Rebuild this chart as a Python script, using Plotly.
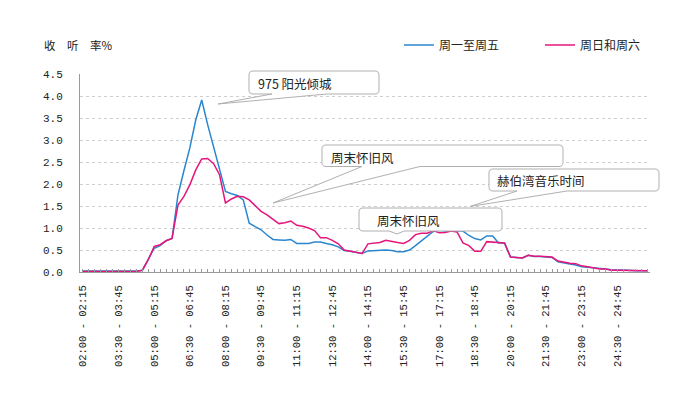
import plotly.graph_objects as go

# ---- data ----
slots = []
for k in range(96):
    m0 = 2 * 60 + 15 * k
    m1 = m0 + 15
    slots.append(f"{m0 // 60:02d}:{m0 % 60:02d} - {m1 // 60:02d}:{m1 % 60:02d}")

tick_labels = ["02:00 - 02:15", "03:30 - 03:45", "05:00 - 05:15", "06:30 - 06:45",
               "08:00 - 08:15", "09:30 - 09:45", "11:00 - 11:15", "12:30 - 12:45",
               "14:00 - 14:15", "15:30 - 15:45", "17:00 - 17:15", "18:30 - 18:45",
               "20:00 - 20:15", "21:30 - 21:45", "23:00 - 23:15", "24:30 - 24:45"]

weekday = [0.02, 0.02, 0.02, 0.02, 0.02, 0.02, 0.02, 0.02, 0.02, 0.02,
           0.04, 0.28, 0.54, 0.60, 0.71, 0.76, 1.75, 2.30, 2.82, 3.46,
           3.91, 3.35, 2.85, 2.30, 1.83, 1.78, 1.74, 1.64, 1.11, 1.03,
           0.96, 0.84, 0.74, 0.73, 0.72, 0.74, 0.65, 0.65, 0.65, 0.68,
           0.68, 0.65, 0.62, 0.57, 0.49, 0.47, 0.45, 0.42, 0.48, 0.49,
           0.49, 0.50, 0.49, 0.46, 0.46, 0.50, 0.60, 0.70, 0.81, 0.92,
           0.95, 0.93, 0.93, 0.93, 0.93, 0.83, 0.76, 0.73, 0.82, 0.82,
           0.66, 0.66, 0.34, 0.33, 0.32, 0.38, 0.35, 0.35, 0.34, 0.33,
           0.23, 0.20, 0.18, 0.16, 0.12, 0.11, 0.10, 0.09, 0.07, 0.05,
           0.05, 0.05, 0.04, 0.03, 0.03, 0.03]

weekend = [0.01, 0.01, 0.01, 0.01, 0.01, 0.01, 0.01, 0.01, 0.01, 0.01,
           0.04, 0.28, 0.58, 0.62, 0.71, 0.76, 1.52, 1.72, 1.98, 2.32,
           2.57, 2.58, 2.46, 2.21, 1.57, 1.66, 1.72, 1.71, 1.64, 1.51,
           1.38, 1.30, 1.21, 1.10, 1.12, 1.16, 1.06, 1.04, 1.00, 0.94,
           0.78, 0.78, 0.72, 0.64, 0.50, 0.47, 0.44, 0.42, 0.64, 0.65,
           0.67, 0.72, 0.69, 0.67, 0.65, 0.72, 0.85, 0.88, 0.88, 0.94,
           0.89, 0.90, 0.93, 0.91, 0.66, 0.60, 0.47, 0.47, 0.69, 0.68,
           0.66, 0.66, 0.34, 0.33, 0.32, 0.38, 0.36, 0.36, 0.35, 0.34,
           0.25, 0.22, 0.20, 0.19, 0.14, 0.12, 0.10, 0.07, 0.07, 0.04,
           0.04, 0.04, 0.04, 0.03, 0.03, 0.03]

series_names = ["周一至周五", "周日和周六"]
y_ticks = [0.0, 0.5, 1.0, 1.5, 2.0, 2.5, 3.0, 3.5, 4.0, 4.5]

# ---- layout geometry (page pixels; the page body adds an 8px offset) ----
OFF = 8
W, H = 700 - OFF, 394 - OFF
PLOT_X0, PLOT_X1, PLOT_Y0, PLOT_Y1 = 80, 650, 74, 272   # page pixels
L = PLOT_X0 - OFF
T = PLOT_Y0 - OFF
PW = PLOT_X1 - PLOT_X0
PH = PLOT_Y1 - PLOT_Y0
R = W - L - PW
B = H - T - PH


def px(x):
    return (x - PLOT_X0) / PW


def py(y):
    return (PLOT_Y1 - y) / PH


def callout(x0, y0, x1, y1, b1, b2, apex, r=4):
    def P(x, y):
        return f"{px(x):.5f},{py(y):.5f}"
    s = f"M {P(x0 + r, y0)} L {P(x1 - r, y0)} Q {P(x1, y0)} {P(x1, y0 + r)} "
    s += f"L {P(x1, y1 - r)} Q {P(x1, y1)} {P(x1 - r, y1)} "
    s += f"L {P(b2, y1)} L {P(apex[0], apex[1])} L {P(b1, y1)} "
    s += f"L {P(x0 + r, y1)} Q {P(x0, y1)} {P(x0, y1 - r)} "
    s += f"L {P(x0, y0 + r)} Q {P(x0, y0)} {P(x0 + r, y0)} Z"
    return s


fig = go.Figure()
fig.add_trace(go.Scatter(x=slots, y=weekday, mode="lines", name=series_names[0],
                         line=dict(color="#2a86cf", width=1.5)))
fig.add_trace(go.Scatter(x=slots, y=weekend, mode="lines", name=series_names[1],
                         line=dict(color="#e5157c", width=1.5)))

ticktext = [s if s in tick_labels else "" for s in slots]

callouts = [
    (249, 71, 379, 94, 272, 327, (218, 104), "975 阳光倾城", 256, 83),
    (322, 145, 563, 166.5, 362, 420, (273, 203), "周末怀旧风", 329, 157),
    (489, 169, 659, 191, 517, 567, (470, 206.5), "赫伯湾音乐时间", 495, 180),
    (359, 208, 502, 231, 389, 404, (397, 234), "周末怀旧风", 375, 220.5),
]

shapes = []
annotations = []
for (x0, y0, x1, y1, b1, b2, apex, txt, tx, ty) in callouts:
    shapes.append(dict(type="path", xref="paper", yref="paper", layer="above",
                       path=callout(x0, y0, x1, y1, b1, b2, apex),
                       fillcolor="white", line=dict(color="#b0b0b0", width=1)))
    annotations.append(dict(xref="paper", yref="paper", x=px(tx), y=py(ty),
                            xanchor="left", yanchor="middle", showarrow=False,
                            text=txt, font=dict(size=12.5, color="#222",
                                                family="Noto Sans CJK SC")))

annotations.append(dict(xref="paper", yref="paper", x=px(42), y=py(45),
                        xanchor="left", yanchor="middle", showarrow=False,
                        text="收　听　率%", font=dict(size=11.5, color="#222",
                                                 family="Noto Sans CJK SC")))

fig.update_layout(
    width=W, height=H,
    margin=dict(l=L, r=R, t=T, b=B, autoexpand=False),
    paper_bgcolor="white", plot_bgcolor="white",
    font=dict(family="Noto Sans CJK SC", color="#222"),
    showlegend=True,
    legend=dict(orientation="h", x=px(399), y=py(45), xanchor="left", yanchor="middle",
                font=dict(size=12, color="#222", family="Noto Sans CJK SC"),
                entrywidth=96, entrywidthmode="pixels", itemwidth=30,
                bgcolor="rgba(0,0,0,0)", tracegroupgap=0),
    xaxis=dict(type="category", range=[-0.5, 95.5], tickmode="array",
               tickvals=slots, ticktext=ticktext, tickangle=-90,
               ticks="inside", ticklen=3, tickcolor="#999", showgrid=False,
               showline=True, linecolor="#999", linewidth=1, automargin=False,
               tickfont=dict(family="Liberation Mono", size=10.5, color="#222"),
               ticklabelstandoff=8),
    yaxis=dict(range=[0, 4.5], tickmode="array", tickvals=y_ticks,
               ticktext=[f"{v:.1f}" for v in y_ticks],
               showgrid=True, gridcolor="#cfcfcf", griddash="3px,3px", gridwidth=1,
               zeroline=False, showline=True, linecolor="#999", linewidth=1,
               ticks="", automargin=False,
               tickfont=dict(family="Liberation Mono", size=11, color="#222"),
               ticklabelstandoff=14),
    shapes=shapes,
    annotations=annotations,
)

fig.write_html("out.html")
